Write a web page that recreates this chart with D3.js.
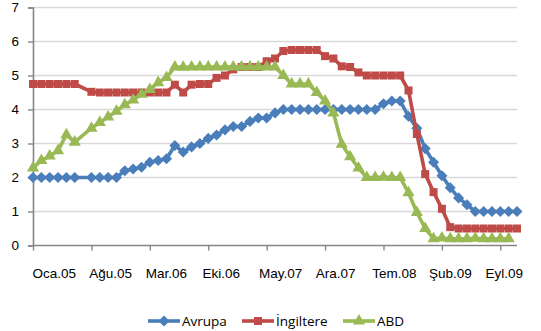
<!DOCTYPE html>
<html>
<head>
<meta charset="utf-8">
<script src="https://cdnjs.cloudflare.com/ajax/libs/d3/7.8.5/d3.min.js"></script>
<style>
  html, body { margin: 0; padding: 0; background: #fff; }
  svg { display: block; font-family: "Open Sans", "Liberation Sans", sans-serif; }
</style>
</head>
<body>
<div id="chart"></div>
<script>
// ---- DATA ----
const months = [
  "Oca.05","Şub.05","Mar.05","Nis.05","May.05","Haz.05","Tem.05","Ağu.05","Eyl.05","Eki.05","Kas.05","Ara.05",
  "Oca.06","Şub.06","Mar.06","Nis.06","May.06","Haz.06","Tem.06","Ağu.06","Eyl.06","Eki.06","Kas.06","Ara.06",
  "Oca.07","Şub.07","Mar.07","Nis.07","May.07","Haz.07","Tem.07","Ağu.07","Eyl.07","Eki.07","Kas.07","Ara.07",
  "Oca.08","Şub.08","Mar.08","Nis.08","May.08","Haz.08","Tem.08","Ağu.08","Eyl.08","Eki.08","Kas.08","Ara.08",
  "Oca.09","Şub.09","Mar.09","Nis.09","May.09","Haz.09","Tem.09","Ağu.09","Eyl.09","Eki.09","Kas.09"
];
const tickLabels = ["Oca.05","Ağu.05","Mar.06","Eki.06","May.07","Ara.07","Tem.08","Şub.09","Eyl.09"];
const yTicks = [0,1,2,3,4,5,6,7];

const avrupa = [
  2,2,2,2,2,2,null,2,2,2,2,2.2,
  2.25,2.3,2.45,2.5,2.55,2.94,2.75,2.9,3.0,3.15,3.25,3.4,
  3.5,3.5,3.65,3.75,3.75,3.9,4,4,4,4,4,4,
  4,4,4,4,4,4,4.17,4.25,4.25,3.8,3.45,2.85,
  2.45,2.05,1.7,1.4,1.2,1.0,1.0,1.0,1.0,1.0,1.0
];
const ingiltere = [
  4.75,4.75,4.75,4.75,4.75,4.75,null,4.52,4.5,4.5,4.5,4.5,
  4.5,4.5,4.5,4.5,4.5,4.73,4.5,4.73,4.75,4.75,4.93,5.0,
  5.18,5.25,5.25,5.25,5.42,5.5,5.72,5.75,5.75,5.75,5.75,5.57,
  5.5,5.27,5.25,5.09,5.0,5.0,5.0,5.0,5.0,4.56,3.28,2.1,
  1.57,1.08,0.54,0.5,0.5,0.5,0.5,0.5,0.5,0.5,0.5
];
const abd = [
  2.28,2.5,2.63,2.79,3.26,3.04,null,3.45,3.62,3.78,3.95,4.14,
  4.28,4.45,4.59,4.79,4.94,5.25,5.24,5.25,5.25,5.25,5.25,5.25,
  5.25,5.25,5.25,5.25,5.25,5.25,5.0,4.75,4.75,4.75,4.5,4.25,
  3.9,2.98,2.61,2.28,2.0,2.0,2.01,2.0,2.0,1.55,0.97,0.5,
  0.2,0.22,0.2,0.2,0.2,0.21,0.2,0.2,0.2,0.2
];
const seriesNames = ["Avrupa","İngiltere","ABD"];
const seriesColors = ["#4a7ebb","#be4b48","#98b954"];
const seriesMarkers = ["diamond","square","triangle"];

// ---- CHART ----
const W = 541, H = 331;
const svg = d3.select("#chart").append("svg").attr("width", W).attr("height", H);

const x = d3.scaleLinear().domain([0, months.length - 1]).range([33, 517]);
const y = d3.scaleLinear().domain([0, 7]).range([245.5, 7.5]);

// gridlines
svg.append("g").selectAll("line").data(yTicks.filter(d => d > 0)).join("line")
  .attr("x1", x(0)).attr("x2", x(months.length - 1))
  .attr("y1", d => y(d)).attr("y2", d => y(d))
  .attr("stroke", "#d9d9d9").attr("stroke-width", 1.6);

// y axis
const yAxis = svg.append("g").attr("transform", `translate(${x(0)},0)`)
  .call(d3.axisLeft(y).tickValues(yTicks).tickSize(5).tickPadding(9).tickFormat(d3.format("d")));
yAxis.select(".domain").attr("stroke", "#868686").attr("stroke-width", 1.6);
yAxis.selectAll(".tick line").attr("stroke", "#868686").attr("stroke-width", 1.4);
yAxis.selectAll("text").attr("font-size", 13.5).attr("fill", "#000");

// x axis (tick marks)
const tickIdx = tickLabels.map(l => months.indexOf(l));
const xAxis = svg.append("g").attr("transform", `translate(0,${y(0)})`)
  .call(d3.axisBottom(x).tickValues(tickIdx).tickSize(5).tickFormat(""));
xAxis.select(".domain").attr("stroke", "#868686").attr("stroke-width", 1.6)
  .attr("d", `M${x(0)},0H${x(months.length - 1)}`);
xAxis.selectAll(".tick line").attr("stroke", "#868686").attr("stroke-width", 1.4);

// x axis labels
const xl = d3.scalePoint().domain(tickLabels).range([32, 485]);
const xLab = svg.append("g").attr("transform", `translate(0,${y(0)})`)
  .call(d3.axisBottom(xl).tickSize(0).tickPadding(23));
xLab.select(".domain").remove();
xLab.selectAll("text").attr("font-size", 13.5).attr("fill", "#000").attr("text-anchor", "start");

// marker paths
function markerPath(type) {
  if (type === "diamond") return d3.symbol().type(d3.symbolDiamond2).size(78)();
  if (type === "square") return d3.symbol().type(d3.symbolSquare).size(64)();
  return d3.symbol().type(d3.symbolTriangle).size(64)();
}

const allSeries = [avrupa, ingiltere, abd];
const line = d3.line().x(d => x(d.i)).y(d => y(d.v));

allSeries.forEach((vals, k) => {
  const pts = vals.map((v, i) => ({ i, v })).filter(d => d.v !== null && d.v !== undefined);
  const g = svg.append("g");
  g.append("path").datum(pts).attr("d", line)
    .attr("fill", "none").attr("stroke", seriesColors[k]).attr("stroke-width", 3.6)
    .attr("stroke-linejoin", "round");
  g.selectAll("path.m").data(pts).join("path").attr("class", "m")
    .attr("d", markerPath(seriesMarkers[k]))
    .attr("transform", d => `translate(${x(d.i)},${y(d.v)})`)
    .attr("fill", seriesColors[k]);
});

// legend
const legendX = [148, 242, 343];
const legendY = 321;
const leg = svg.append("g");
seriesNames.forEach((name, k) => {
  const lg = leg.append("g").attr("transform", `translate(${legendX[k]},${legendY})`);
  lg.append("line").attr("x1", 0).attr("x2", 32).attr("y1", 0).attr("y2", 0)
    .attr("stroke", seriesColors[k]).attr("stroke-width", 3.6);
  lg.append("path").attr("d", markerPath(seriesMarkers[k]))
    .attr("transform", "translate(16,0)").attr("fill", seriesColors[k]);
  lg.append("text").attr("x", 34).attr("y", 5).attr("font-size", 13.5).attr("fill", "#000").text(name);
});
</script>
</body>
</html>
